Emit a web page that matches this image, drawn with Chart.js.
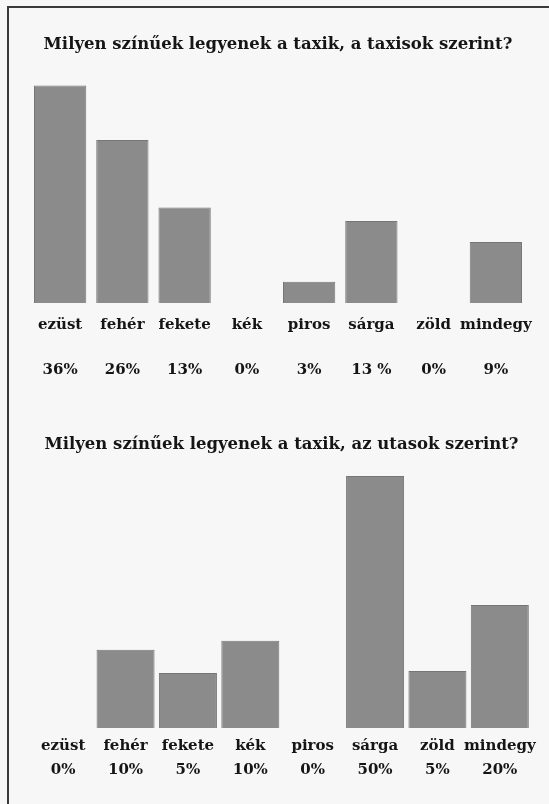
<!DOCTYPE html>
<html>
<head>
<meta charset="utf-8">
<script src="https://cdn.jsdelivr.net/npm/chart.js@4"></script>
<style>
  html, body { margin: 0; padding: 0; background: #f7f7f7; }
  #page { position: relative; width: 549px; height: 804px; overflow: hidden; }
  #frame { position: absolute; left: 7px; top: 6px; right: 0; bottom: 0;
           border-top: 2px solid #3a3a3a; border-left: 2px solid #3a3a3a; }
  .box { position: absolute; left: 0; width: 549px; }
  #top { top: 0; height: 400px; }
  #bottom { top: 400px; height: 404px; }
</style>
</head>
<body>
<div id="page">
  <div id="frame"></div>
  <div class="box" id="top"><canvas id="c1"></canvas></div>
  <div class="box" id="bottom"><canvas id="c2"></canvas></div>
</div>
<script>
// colour categories, same for both charts
const categories = ['ezüst', 'fehér', 'fekete', 'kék', 'piros', 'sárga', 'zöld', 'mindegy'];

// taxisok (drivers)
const taxisTitle = 'Milyen színűek legyenek a taxik, a taxisok szerint?';
const taxisPercent = ['36%', '26%', '13%', '0%', '3%', '13 %', '0%', '9%'];
const taxisBars = [36, 27.0, 15.8, 0, 3.5, 13.6, 0, 10.1]; // bar lengths as drawn

// utasok (passengers)
const utasTitle = 'Milyen színűek legyenek a taxik, az utasok szerint?';
const utasPercent = ['0%', '10%', '5%', '10%', '0%', '50%', '5%', '20%'];
const utasBars = [0, 15.5, 10.9, 17.3, 0, 50, 11.3, 24.4]; // bar lengths as drawn

const serif = "'DejaVu Serif', 'Liberation Serif', serif";
const ink = '#151515';

function makeChart(id, title, bars, percent, o) {
  // two-line tick: colour name, then its percentage
  const labels = categories.map((c, i) => [c, percent[i]]);
  return new Chart(document.getElementById(id), {
    type: 'bar',
    data: {
      labels: labels,
      datasets: [{
        data: bars,
        backgroundColor: '#8b8b8b',
        borderColor: '#767676',
        borderWidth: 1,
        barPercentage: o.barPct,
        categoryPercentage: 1
      }]
    },
    options: {
      responsive: true,
      maintainAspectRatio: false,
      animation: false,
      layout: { padding: { left: o.left, right: o.right, top: 0, bottom: o.bottom } },
      plugins: {
        legend: { display: false },
        tooltip: { enabled: false },
        title: {
          display: true,
          text: title,
          color: ink,
          font: { family: serif, size: 16.5, weight: 'bold' },
          padding: { top: 35, bottom: 11.5 }
        }
      },
      scales: {
        y: { display: false, min: 0, max: o.max },
        x: {
          grid: { display: false, drawTicks: false },
          border: { display: false },
          ticks: {
            color: ink, padding: o.pad, autoSkip: false, minRotation: 0, maxRotation: 0,
            font: { family: serif, size: 15, weight: 'bold', lineHeight: o.lh }
          }
        }
      }
    }
  });
}

makeChart('c1', taxisTitle, taxisBars, taxisPercent,
  { left: 29, right: 22, bottom: 7, max: 39.2, pad: 0, lh: 3, barPct: 0.84 });
makeChart('c2', utasTitle, utasBars, utasPercent,
  { left: 32, right: 18, bottom: 16, max: 51.9, pad: 6, lh: 1.6, barPct: 0.93 });
</script>
</body>
</html>
